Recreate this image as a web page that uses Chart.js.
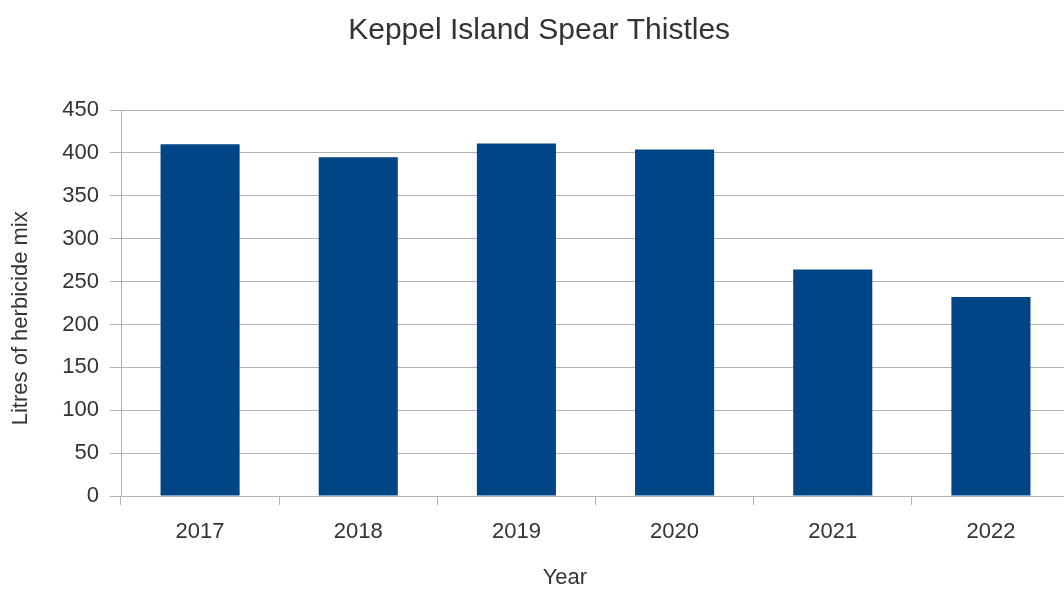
<!DOCTYPE html>
<html>
<head>
<meta charset="utf-8">
<script src="https://cdn.jsdelivr.net/npm/chart.js@4"></script>
<style>
  html, body { margin: 0; padding: 0; background: #fff; overflow: hidden; }
  #wrap { width: 1070px; height: 594px; }
</style>
</head>
<body>
<div id="wrap"><canvas id="thistleChart" width="1070" height="594"></canvas></div>
<script>
const years = ['2017', '2018', '2019', '2020', '2021', '2022'];
const litres = [410, 395, 411, 404, 264, 232];
const yTicks = [0, 50, 100, 150, 200, 250, 300, 350, 400, 450];

const gridGrey = '#b3b3b3';
const textGrey = '#333333';
const font = 'Liberation Sans, Arial, sans-serif';

const ctx = document.getElementById('thistleChart').getContext('2d');

// trailing spaces nudge the axis titles off-centre like in the original
new Chart(ctx, {
    type: 'bar',
    data: {
        labels: years,
        datasets: [
            {
                label: 'Litres',
                data: litres,
                backgroundColor: '#004586',
                borderWidth: 0,
                barPercentage: 0.5,
                categoryPercentage: 1,
            },
        ],
    },
    options: {
        responsive: false,
        animation: false,
        devicePixelRatio: 1,
        layout: { padding: 0 },
        plugins: {
            legend: { display: false },
            tooltip: { enabled: false },
            title: {
                display: true,
                text: ' Keppel Island Spear Thistles',
                color: textGrey,
                font: { family: font, size: 30, weight: 'normal' },
                padding: { top: 13, bottom: 110 - 13 - 30 * 1.2 },
            },
        },
        scales: {
            x: {
                grid: {
                    drawOnChartArea: false,
                    drawTicks: true,
                    tickLength: 9,
                    color: gridGrey,
                },
                border: { color: gridGrey },
                ticks: {
                    color: textGrey,
                    font: { family: font, size: 22 },
                    padding: 14,
                    maxRotation: 0,
                },
                title: {
                    display: true,
                    text: 'Year          ',
                    color: textGrey,
                    font: { family: font, size: 22 },
                    padding: { top: 0, bottom: 3 },
                },
                afterFit: (scale) => { scale.height = 98; },
            },
            y: {
                min: 0,
                max: 450,
                afterBuildTicks: (scale) => {
                    scale.ticks = yTicks.map((v) => ({ value: v }));
                },
                grid: {
                    color: gridGrey,
                    tickLength: 11,
                },
                border: { color: gridGrey },
                ticks: {
                    color: textGrey,
                    font: { family: font, size: 22 },
                    padding: 11,
                },
                title: {
                    display: true,
                    text: 'Litres of herbicide mix     ',
                    color: textGrey,
                    font: { family: font, size: 22 },
                    padding: { top: 8, bottom: 0 },
                },
                afterFit: (scale) => { scale.width = 121; },
            },
        },
    },
});
</script>
</body>
</html>
